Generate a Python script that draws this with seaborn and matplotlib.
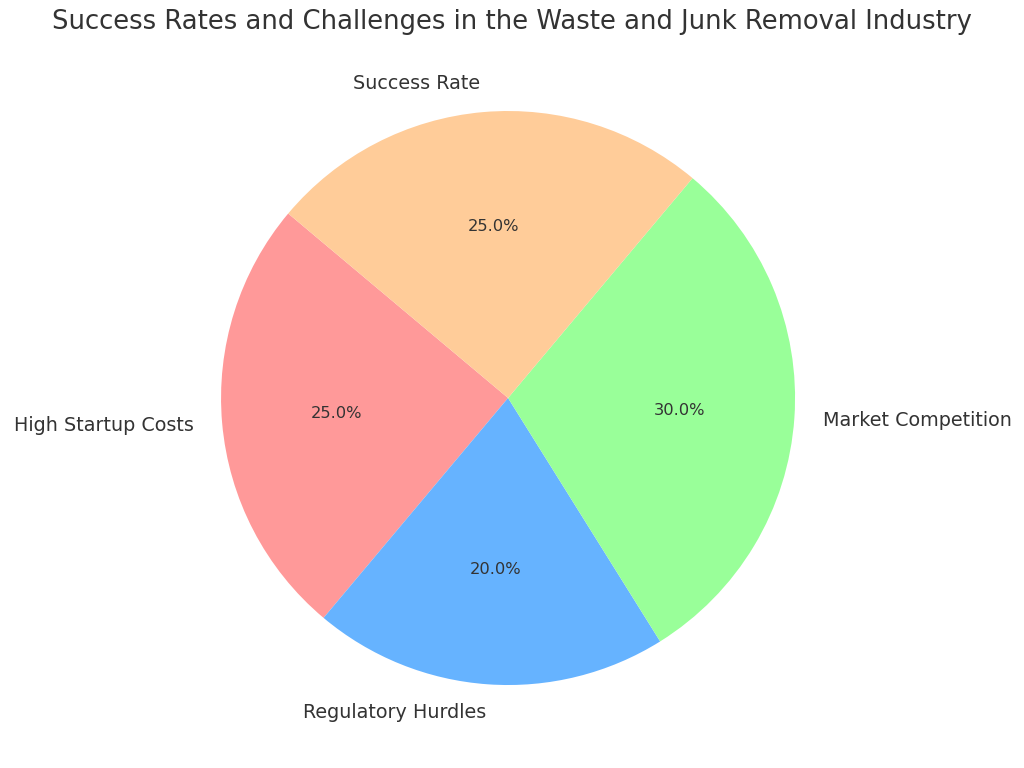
import matplotlib
matplotlib.use("Agg")
import matplotlib.pyplot as plt
import seaborn as sns

LABELS = ["High Startup Costs", "Regulatory Hurdles", "Market Competition", "Success Rate"]
SHARES = [25, 20, 30, 25]
COLORS = ["#ff9999", "#66b3ff", "#99ff99", "#ffcc99"]

TITLE = "Success Rates and Challenges in the Waste and Junk Removal Industry"


def plot_pie():
    sns.set_theme(style="white")
    plt.rcParams["font.family"] = ["DejaVu Sans"]
    plt.rcParams["text.color"] = "#333333"

    fig = plt.figure(figsize=(10.24, 7.68), dpi=100)
    # square axes in pixels, pie centred about (508, 398)
    ax = fig.add_axes([0.1598, 0.0333, 0.6727, 0.8969])
    wedges, texts, autotexts = ax.pie(
        SHARES,
        labels=LABELS,
        colors=COLORS,
        autopct="%1.1f%%",
        startangle=140,
        labeldistance=1.1,
        pctdistance=0.6,
        wedgeprops={"linewidth": 0},
        textprops={"fontsize": 13.8, "color": "#333333"},
    )
    for t in autotexts:
        t.set_fontsize(11.7)
        t.set_color("#333333")
    ax.set_xlim(-1.2, 1.2)
    ax.set_ylim(-1.2, 1.2)
    fig.suptitle(TITLE, fontsize=18.6, color="#333333", y=1 - 22 / 768, va="center")
    fig.savefig("out.png", dpi=100)


def main():
    plot_pie()


if __name__ == "__main__":
    main()
